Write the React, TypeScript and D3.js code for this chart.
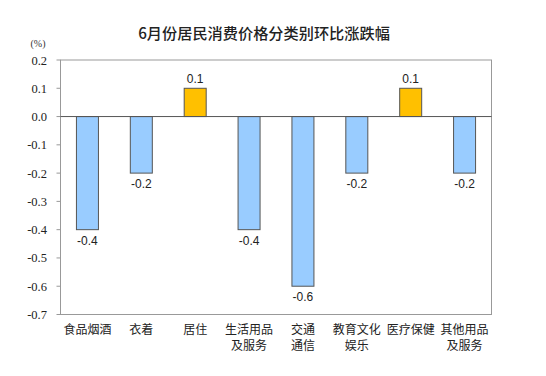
import React from "react";
import * as d3 from "d3";

const categories = [
  ["食品烟酒"],
  ["衣着"],
  ["居住"],
  ["生活用品", "及服务"],
  ["交通", "通信"],
  ["教育文化", "娱乐"],
  ["医疗保健"],
  ["其他用品", "及服务"],
];
const values = [-0.4, -0.2, 0.1, -0.4, -0.6, -0.2, 0.1, -0.2];
const yTicks = [0.2, 0.1, 0.0, -0.1, -0.2, -0.3, -0.4, -0.5, -0.6, -0.7];
const title = "6月份居民消费价格分类别环比涨跌幅";

export default function App() {
  const W = 546, H = 376;
  const left = 60.5, right = 491.5, top = 60, bottom = 314.5;
  const x = d3.scaleBand<number>().domain(d3.range(categories.length)).range([left, right]).paddingInner(0).paddingOuter(0);
  const y = d3.scaleLinear().domain([-0.7, 0.2]).range([bottom, top]);
  const bw = 22;
  const cjk = "'Noto Sans CJK SC', sans-serif";
  return (
    <svg width={W} height={H} style={{ position: "absolute", left: 0, top: 0, background: "#fff" }}>
      <text x={264} y={39} textAnchor="middle" fontFamily={cjk} fontSize={15.2} fontWeight={500} fill="#222">{title}</text>
      <text x={38} y={47} textAnchor="middle" fontFamily="'Liberation Serif', serif" fontSize={10} fill="#333">(%)</text>
      <rect x={left} y={top} width={right - left} height={bottom - top} fill="none" stroke="#999" strokeWidth={1} />
      {yTicks.map((t) => (
        <g key={t}>
          <line x1={left - 4} x2={left} y1={y(t)} y2={y(t)} stroke="#999" />
          <text x={47} y={y(t) + 4.5} textAnchor="end" fontFamily="'Liberation Serif', serif" fontSize={12.5} fill="#222">
            {t.toFixed(1)}
          </text>
        </g>
      ))}
      {values.map((v, i) => {
        const cx = x(i)! + x.bandwidth() / 2;
        const y0 = y(0), y1 = y(v);
        return (
          <g key={i}>
            <rect x={cx - bw / 2} y={Math.min(y0, y1)} width={bw} height={Math.abs(y1 - y0)}
              fill={v > 0 ? "#FFC000" : "#99CCFF"} stroke="#555" strokeWidth={1} />
            <text x={cx} y={v > 0 ? y1 - 5 : y1 + 15} textAnchor="middle" fontFamily="'Liberation Sans', Arial, sans-serif" fontSize={12} fill="#222">
              {v.toFixed(1)}
            </text>
          </g>
        );
      })}
      <line x1={left} x2={right} y1={y(0)} y2={y(0)} stroke="#555" strokeWidth={1} />
      {categories.map((lines, i) => {
        const cx = x(i)! + x.bandwidth() / 2;
        return (
          <text key={i} textAnchor="middle" fontFamily={cjk} fontSize={12} fill="#222">
            {lines.map((l, j) => (
              <tspan key={j} x={cx} y={333.5 + j * 16}>{l}</tspan>
            ))}
          </text>
        );
      })}
    </svg>
  );
}
